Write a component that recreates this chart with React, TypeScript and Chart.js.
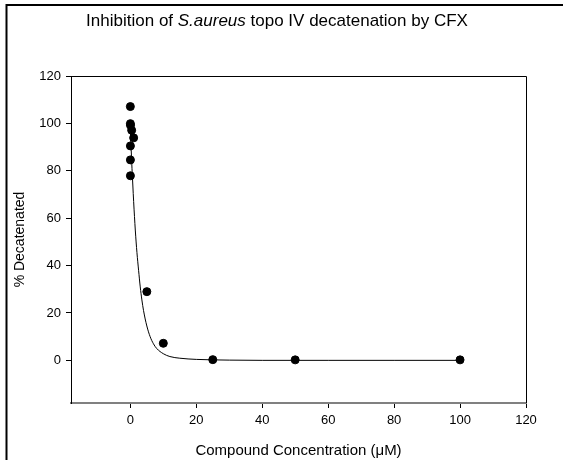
import React, { useEffect, useRef } from "react";
import { Chart, registerables } from "chart.js";

Chart.register(...registerables);

// Measured data points (concentration µM, % decatenated)
const pointConc = [0.0, 0.01, 0.05, 0.4, 1.0, 0.02, 0.02, 0.02, 5, 10, 25, 50, 100];
const pointPct = [107.1, 99.9, 99.2, 97.1, 93.9, 90.5, 84.6, 77.9, 29.0, 7.2, 0.3, 0.2, 0.2];

// Fitted curve
const curveConc = [0, 0.25, 0.5, 0.75, 1, 1.5, 2, 2.5, 3, 3.5, 4, 5, 6, 7, 8, 10, 12, 15, 20, 25, 30, 40, 50, 60, 80, 100];
const curvePct = [97, 89, 81, 74, 67, 55, 45.5, 38, 31, 25.5, 21, 14.5, 10, 7, 5, 2.8, 1.6, 0.9, 0.4, 0.2, 0.1, 0, 0, 0, 0, 0];

const xTickValues = [0, 20, 40, 60, 80, 100, 120];
const yTickValues = [0, 20, 40, 60, 80, 100, 120];

const titleParts = [
  { text: "Inhibition of ", italic: false },
  { text: "S.aureus", italic: true },
  { text: " topo IV decatenation by CFX", italic: false },
];
const xTitle = "Compound Concentration (\u03bcM)";
const yTitle = "% Decatenated";

const FONT = "'Liberation Sans', Arial, sans-serif";

export default function App() {
  const ref = useRef<HTMLCanvasElement | null>(null);

  useEffect(() => {
    if (!ref.current) return;

    const decor = {
      id: "decor",
      beforeDraw(chart: any) {
        const ctx = chart.ctx;
        ctx.save();
        ctx.fillStyle = "#ffffff";
        ctx.fillRect(0, 0, chart.width, chart.height);
        ctx.restore();
      },
      afterDraw(chart: any) {
        const ctx = chart.ctx;
        const a = chart.chartArea;
        ctx.save();
        // outer frame
        ctx.strokeStyle = "#000";
        ctx.lineWidth = 2;
        ctx.beginPath();
        ctx.moveTo(6.5, chart.height + 2);
        ctx.lineTo(6.5, 5);
        ctx.lineTo(chart.width + 2, 5);
        ctx.stroke();
        // top and right plot lines
        ctx.lineWidth = 1;
        ctx.beginPath();
        ctx.moveTo(a.left, a.top + 0.5);
        ctx.lineTo(a.right + 0.5, a.top + 0.5);
        ctx.lineTo(a.right + 0.5, a.bottom);
        ctx.stroke();
        // title
        ctx.fillStyle = "#000";
        ctx.textBaseline = "middle";
        ctx.textAlign = "left";
        const size = 17;
        let total = 0;
        const widths = titleParts.map((p) => {
          ctx.font = `${p.italic ? "italic " : ""}${size}px ${FONT}`;
          const w = ctx.measureText(p.text).width;
          total += w;
          return w;
        });
        let x = 277 - total / 2;
        titleParts.forEach((p, i) => {
          ctx.font = `${p.italic ? "italic " : ""}${size}px ${FONT}`;
          ctx.fillText(p.text, x, 21);
          x += widths[i];
        });
        // x title
        ctx.font = `15px ${FONT}`;
        ctx.textAlign = "center";
        ctx.fillText(xTitle, (a.left + a.right) / 2, 451);
        // y title
        ctx.font = `14px ${FONT}`;
        ctx.translate(20, (a.top + a.bottom) / 2);
        ctx.rotate(-Math.PI / 2);
        ctx.fillText(yTitle, 0, 0);
        ctx.restore();
      },
    };

    const chart = new Chart(ref.current, {
      type: "scatter",
      data: {
        datasets: [
          {
            label: "points",
            data: pointConc.map((c, i) => ({ x: c, y: pointPct[i] })),
            backgroundColor: "#000",
            borderColor: "#000",
            pointRadius: 4,
            pointHoverRadius: 4,
            showLine: false,
            order: 1,
          },
          {
            label: "fit",
            data: curveConc.map((c, i) => ({ x: c, y: curvePct[i] })),
            borderColor: "#000",
            borderWidth: 1,
            pointRadius: 0,
            showLine: true,
            cubicInterpolationMode: "monotone",
            order: 2,
          } as any,
        ],
      },
      options: {
        responsive: false,
        animation: false,
        events: [],
        layout: { padding: { left: 0, top: 76, right: 37, bottom: 0 } },
        plugins: { legend: { display: false }, tooltip: { enabled: false }, title: { display: false } },
        scales: {
          x: {
            type: "linear",
            min: -18,
            max: 120,
            afterFit: (s: any) => {
              s.height = 57;
            },
            afterBuildTicks: (s: any) => {
              s.ticks = xTickValues.map((v) => ({ value: v }));
            },
            grid: { drawOnChartArea: false, drawTicks: true, tickLength: 5, color: "#000", tickWidth: 1 },
            border: { display: true, color: "#808080", width: 2 },
            ticks: { color: "#000", padding: 5, font: { family: FONT, size: 13 }, maxRotation: 0 },
          },
          y: {
            type: "linear",
            min: -18,
            max: 120,
            afterFit: (s: any) => {
              s.width = 71;
            },
            afterBuildTicks: (s: any) => {
              s.ticks = yTickValues.map((v) => ({ value: v }));
            },
            grid: { drawOnChartArea: false, drawTicks: true, tickLength: 5, color: "#000", tickWidth: 1 },
            border: { display: true, color: "#000", width: 1 },
            ticks: { color: "#000", padding: 5, font: { family: FONT, size: 13 } },
          },
        },
      },
      plugins: [decor],
    });

    return () => chart.destroy();
  }, []);

  return (
    <div style={{ position: "absolute", left: 0, top: 0, width: 563, height: 460 }}>
      <canvas ref={ref} width={563} height={460} style={{ width: 563, height: 460, display: "block" }} />
    </div>
  );
}
